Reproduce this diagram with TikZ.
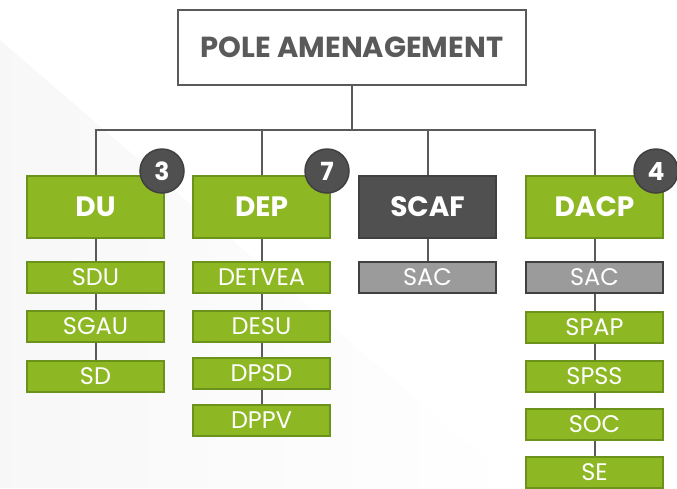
\documentclass[tikz,border=0pt]{standalone}
\usepackage{fontspec}
\setmainfont{Poppins}
\usetikzlibrary{positioning}
\definecolor{leafgreen}{HTML}{8DB824}
\definecolor{leafline}{HTML}{6B931C}
\definecolor{darkbox}{HTML}{505050}
\definecolor{linegray}{HTML}{5A5A5A}
\definecolor{sacgray}{HTML}{9B9B9B}

\tikzset{
  headbox/.style={draw=linegray,fill=white,line width=2pt,minimum width=348pt,minimum height=75pt,text=linegray,font=\fontsize{29}{29}\selectfont\bfseries},
  service/.style={draw=leafline,fill=leafgreen,line width=2pt,minimum width=137pt,minimum height=62pt,inner sep=0pt,text=white,font=\fontsize{28}{28}\selectfont\bfseries},
  office/.style={draw=leafline,fill=leafgreen,line width=2pt,minimum width=137pt,minimum height=31pt,inner sep=0pt,text=white,font=\fontsize{24}{24}\selectfont},
  link/.style={draw=linegray,line width=2pt},
  badge/.style={circle,fill=darkbox,draw=black!75,line width=1.5pt,minimum size=44pt,inner sep=0pt,text=white,font=\fontsize{25}{25}\selectfont\bfseries}
}

\begin{document}
\begin{tikzpicture}[x=1pt,y=-1pt]
\useasboundingbox (0,0) rectangle (677,488);
\shade[left color=black!3,right color=white] (0,40) -- (0,488) -- (520,488) -- cycle;

\node[headbox] (pole) at (352,47.5) {POLE AMENAGEMENT};
\coordinate (bus) at (352,130);

% directions
\node[service] (du) at (95.5,207) {DU};
\node[service] (dep) at (261.5,207) {DEP};
\node[service,fill=darkbox,draw=black!75] (scaf) at (427.5,207) {SCAF};
\node[service] (dacp) at (594.5,207) {DACP};

\draw[link] (pole) -- (bus);
\foreach \n in {du,dep,scaf,dacp}
  \draw[link] (bus) -| (\n);

% services
\foreach \n/\t/\y in {sdu/SDU/277.5,sgau/SGAU/326.5,sd/SD/376.5}
  \node[office] (\n) at (95.5,\y) {\t};
\foreach \n/\t/\y in {detvea/DETVEA/277.5,desu/DESU/326.5,dpsd/DPSD/373.5,dppv/DPPV/420}
  \node[office] (\n) at (261.5,\y) {\t};
\node[office,fill=sacgray,draw=black!75] (sac1) at (427.5,277.5) {SAC};
\node[office,fill=sacgray,draw=black!75] (sac2) at (594.5,277.5) {SAC};
\foreach \n/\t/\y in {spap/SPAP/327.5,spss/SPSS/376,soc/SOC/424.5,se/SE/472}
  \node[office] (\n) at (594.5,\y) {\t};

\draw[link] (du) -- (sdu) -- (sgau) -- (sd);
\draw[link] (dep) -- (detvea) -- (desu) -- (dpsd) -- (dppv);
\draw[link] (scaf) -- (sac1);
\draw[link] (dacp) -- (sac2) -- (spap) -- (spss) -- (soc) -- (se);

% counts
\node[badge] (n3) at ([shift={(-3,-4)}]du.north east) {3};
\node[badge] (n7) at ([shift={(-4,-4)}]dep.north east) {7};
\node[badge] (n4) at ([shift={(-8,-4)}]dacp.north east) {4};
\end{tikzpicture}
\end{document}
